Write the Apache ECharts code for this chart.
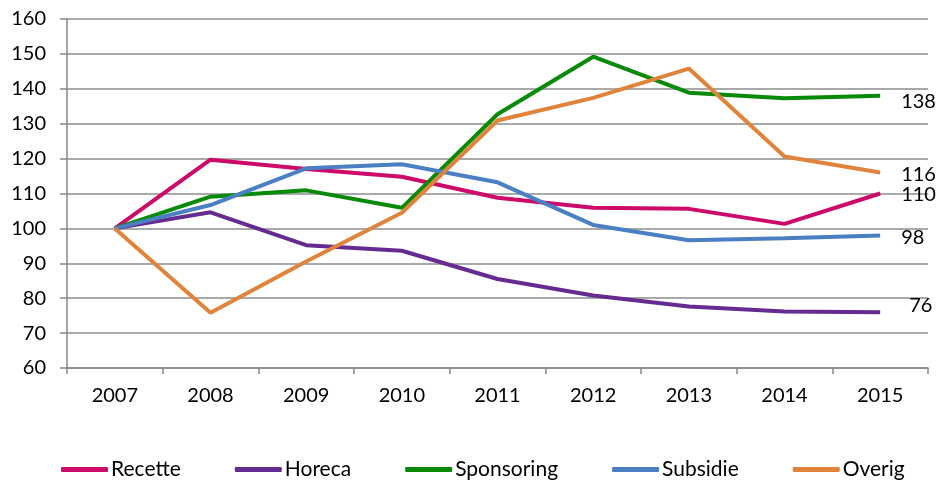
<!DOCTYPE html>
<html>
<head>
<meta charset="utf-8">
<script src="https://cdn.jsdelivr.net/npm/echarts@6/dist/echarts.min.js"></script>
<style>
  html, body { margin: 0; padding: 0; background: #fff; }
  #chart { width: 938px; height: 483px; }
</style>
</head>
<body>
<div id="chart"></div>
<script>
  // years on the x axis
  const years = ['2007', '2008', '2009', '2010', '2011', '2012', '2013', '2014', '2015'];

  // index values, 2007 = 100
  const recette    = [100, 119.7, 117.0, 114.8, 108.8, 105.9, 105.6, 101.3, 110];
  const horeca     = [100, 104.6, 95.2, 93.6, 85.5, 80.8, 77.6, 76.2, 76];
  const sponsoring = [100, 109.1, 110.9, 105.9, 132.7, 149.2, 138.9, 137.3, 138];
  const subsidie   = [100, 106.7, 117.2, 118.4, 113.2, 101.0, 96.6, 97.2, 98];
  const overig     = [100, 75.8, 90.5, 104.5, 130.9, 137.4, 145.8, 120.6, 116];

  const font = 'Lato, "Open Sans", sans-serif';

  function line(name, data, color, labelOffset) {
    return {
      name: name,
      type: 'line',
      data: data,
      symbol: 'none',
      lineStyle: { color: color, width: 4 },
      itemStyle: { color: color },
      endLabel: {
        show: true,
        formatter: p => Math.round(p.value),
        color: '#000',
        fontSize: 20,
        fontFamily: font,
        offset: labelOffset
      }
    };
  }

  const chart = echarts.init(document.getElementById('chart'), null, { renderer: 'canvas' });

  chart.setOption({
    animation: false,
    grid: { left: 67, right: 10, top: 19, bottom: 115 },
    legend: {
      top: 454,
      left: 56,
      itemWidth: 47,
      itemHeight: 5,
      itemGap: 54,
      icon: 'roundRect',
      textStyle: { color: '#000', fontSize: 21, fontFamily: font, padding: [0, 0, 0, -2] },
      data: ['Recette', 'Horeca', 'Sponsoring', 'Subsidie', 'Overig']
    },
    xAxis: {
      type: 'category',
      data: years,
      boundaryGap: true,
      axisLine: { lineStyle: { color: '#888', width: 1.5 } },
      axisTick: { show: true, length: 6, lineStyle: { color: '#888', width: 1.5 } },
      axisLabel: { color: '#000', fontSize: 20, fontFamily: font, margin: 18 }
    },
    yAxis: {
      type: 'value',
      min: 60,
      max: 160,
      interval: 10,
      axisLine: { show: true, lineStyle: { color: '#888', width: 1.5 } },
      axisTick: { show: true, length: 7, lineStyle: { color: '#888', width: 1.5 } },
      axisLabel: { color: '#000', fontSize: 20, fontFamily: font, margin: 21 },
      splitLine: { lineStyle: { color: '#8c8c8c', width: 1.5 } }
    },
    series: [
      line('Recette', recette, '#cc0a6a', [13, 1]),
      line('Horeca', horeca, '#652b91', [21, -7]),
      line('Sponsoring', sponsoring, '#078a07', [13, 6]),
      line('Subsidie', subsidie, '#4a7fc4', [13, 2]),
      line('Overig', overig, '#e0843c', [13, 2])
    ]
  });

  window.addEventListener('resize', () => chart.resize());
</script>
</body>
</html>
